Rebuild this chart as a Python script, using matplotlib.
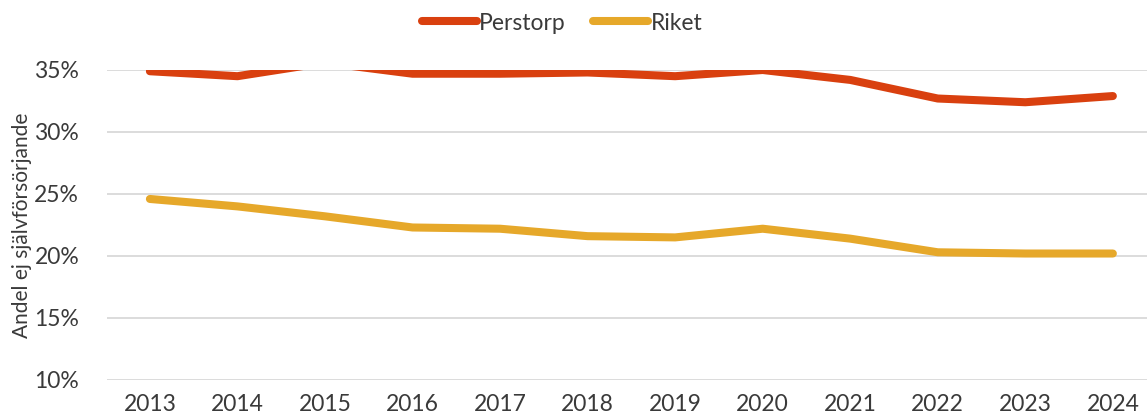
import matplotlib.pyplot as plt
from matplotlib.ticker import FuncFormatter

years = [2013, 2014, 2015, 2016, 2017, 2018, 2019, 2020, 2021, 2022, 2023, 2024]
perstorp = [34.9, 34.5, 35.6, 34.7, 34.7, 34.8, 34.5, 35.0, 34.2, 32.7, 32.4, 32.9]
riket = [24.6, 24.0, 23.2, 22.3, 22.2, 21.6, 21.5, 22.2, 21.4, 20.3, 20.2, 20.2]
yticks = [10, 15, 20, 25, 30, 35]

plt.rcParams['font.family'] = ['Lato', 'DejaVu Sans']
txt = '#3a3a3a'

fig = plt.figure(figsize=(11.47, 4.2), dpi=100)
ax = fig.add_axes([107 / 1147, 40 / 420, 1040 / 1147, 310 / 420])

x = list(range(len(years)))
ax.plot(x, perstorp, color='#D9400F', lw=5.8, solid_capstyle='round',
        solid_joinstyle='round', label='Perstorp', zorder=3)
ax.plot(x, riket, color='#E6A82A', lw=5.8, solid_capstyle='round',
        solid_joinstyle='round', label='Riket', zorder=3)

ax.set_ylim(10, 35)
ax.set_xlim(-0.49, len(years) - 1 + 0.39)
ax.set_yticks(yticks)
ax.yaxis.set_major_formatter(FuncFormatter(lambda v, p: f'{v:.0f}%'))
ax.set_xticks(x)
ax.set_xticklabels([str(y) for y in years])
ax.grid(axis='y', color='#d9d9d9', lw=1.3, zorder=0)
ax.set_axisbelow(True)
for s in ax.spines.values():
    s.set_visible(False)
ax.tick_params(length=0, labelsize=16.5, labelcolor=txt, pad=10)
ax.tick_params(axis='y', pad=20)
ax.set_ylabel('Andel ej självförsörjande', fontsize=15, color=txt, labelpad=2)

leg = fig.legend(loc='center', bbox_to_anchor=(0.49, 1 - 23 / 420), ncol=2,
                 frameon=False, fontsize=16.5, handlelength=2.4, handletextpad=0.1,
                 columnspacing=1.2)
for h in leg.get_lines():
    h.set_solid_capstyle('round')
for t in leg.get_texts():
    t.set_color(txt)

fig.savefig('out.png', dpi=100, facecolor='white')
